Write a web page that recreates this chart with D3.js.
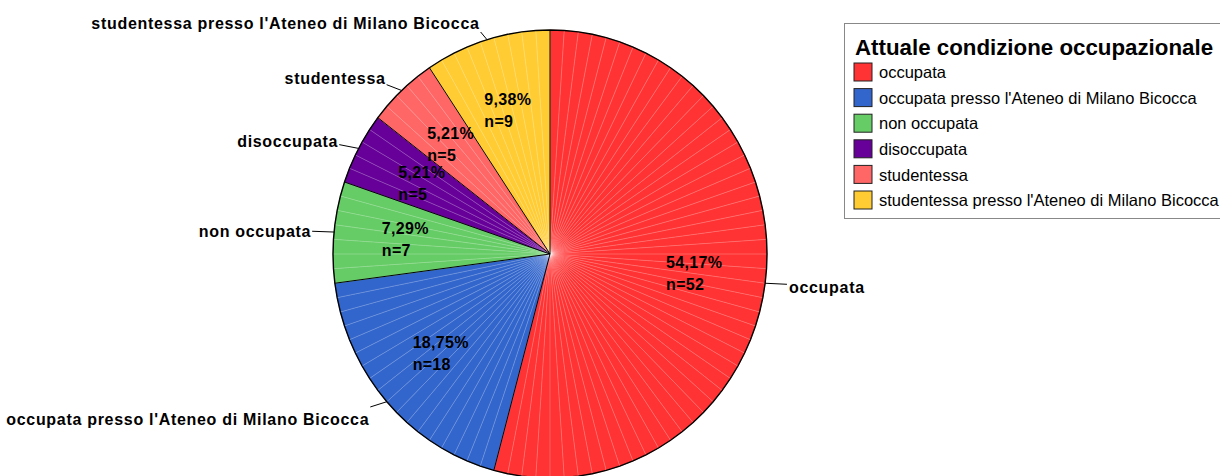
<!DOCTYPE html>
<html>
<head>
<meta charset="utf-8">
<script src="https://cdn.jsdelivr.net/npm/d3@7"></script>
<style>
  body { margin: 0; background: #fff; }
  svg { display: block; font-family: "Liberation Sans", Arial, sans-serif; }
</style>
</head>
<body>
<script>
var categories = ['occupata', "occupata presso l'Ateneo di Milano Bicocca", 'non occupata',
  'disoccupata', 'studentessa', "studentessa presso l'Ateneo di Milano Bicocca"];
var counts = [52, 18, 7, 5, 5, 9];
var colors = ['#ff3333', '#3366cc', '#66cc66', '#660099', '#ff6666', '#ffcc33'];
var legendTitle = 'Attuale condizione occupazionale';

var svg = d3.select('body').append('svg')
  .attr('width', 1220)
  .attr('height', 476);

var cx = 550, cy = 254, rx = 217, ry = 224;
var total = d3.sum(counts);

var locale = d3.formatLocale({ decimal: ',', thousands: '.', grouping: [3], currency: ['', ''] });
var pct = locale.format('.2%');

var z = d3.scaleOrdinal().domain(categories).range(colors);

function pt(a, r) {
  return [cx + rx * r * Math.sin(a), cy - ry * r * Math.cos(a)];
}

// one wedge per respondent, SPSS style
var units = [];
categories.forEach(function (c, i) {
  for (var k = 0; k < counts[i]; k++) units.push({ cat: c, idx: i });
});
var unitArcs = d3.pie().sort(null).value(1)(units);
var catArcs = d3.pie().sort(null).value(function (d) { return d; })(counts);

var line = d3.line();
var pie = svg.append('g');

pie.selectAll('path.unit')
  .data(unitArcs)
  .enter().append('path')
  .attr('class', 'unit')
  .attr('fill', function (d) { return z(d.data.cat); })
  .attr('stroke', function (d) { return z(d.data.cat); })
  .attr('stroke-width', 0.5)
  .attr('d', function (d) {
    return line([[cx, cy], pt(d.startAngle, 1), pt(d.endAngle, 1)]) + 'Z';
  });

// faint separators between respondents
pie.selectAll('line.sep')
  .data(unitArcs)
  .enter().append('line')
  .attr('x1', cx).attr('y1', cy)
  .attr('x2', function (d) { return pt(d.startAngle, 1)[0]; })
  .attr('y2', function (d) { return pt(d.startAngle, 1)[1]; })
  .attr('stroke', '#fff')
  .attr('stroke-opacity', 0.3)
  .attr('stroke-width', 0.8);

// category boundaries
pie.selectAll('line.bound')
  .data(catArcs)
  .enter().append('line')
  .attr('x1', cx).attr('y1', cy)
  .attr('x2', function (d) { return pt(d.startAngle, 1)[0]; })
  .attr('y2', function (d) { return pt(d.startAngle, 1)[1]; })
  .attr('stroke', '#000')
  .attr('stroke-width', 1);

// outline
pie.append('path')
  .attr('fill', 'none')
  .attr('stroke', '#000')
  .attr('stroke-width', 1.4)
  .attr('d', line(unitArcs.map(function (d) { return pt(d.startAngle, 1); })) + 'Z');

// inside labels
var inner = svg.append('g')
  .attr('font-weight', 'bold')
  .attr('font-size', 16)
  .attr('letter-spacing', 0.3)
  .attr('fill', '#000')
  .selectAll('g')
  .data(catArcs)
  .enter().append('g');

inner.each(function (d, i) {
  var g = d3.select(this);
  var mid = (d.startAngle + d.endAngle) / 2;
  var c = pt(mid, 0.67);
  var t1 = g.append('text').attr('dy', '0.35em').attr('y', c[1] - 11).text(pct(counts[i] / total));
  var t2 = g.append('text').attr('dy', '0.35em').attr('y', c[1] + 11).text('n=' + counts[i]);
  var w = Math.max(t1.node().getComputedTextLength(), t2.node().getComputedTextLength());
  t1.attr('x', c[0] - w / 2);
  t2.attr('x', c[0] - w / 2);
});

// outside labels with leader lines
var outer = svg.append('g').selectAll('g')
  .data(catArcs)
  .enter().append('g');

outer.each(function (d, i) {
  var g = d3.select(this);
  var mid = (d.startAngle + d.endAngle) / 2;
  var dx = Math.sin(mid), dy = -Math.cos(mid);
  var e = pt(mid, 1);
  var end = [e[0] + dx * 22, e[1] + dy * 8];
  g.append('line')
    .attr('x1', e[0]).attr('y1', e[1])
    .attr('x2', end[0]).attr('y2', end[1])
    .attr('stroke', '#000')
    .attr('stroke-width', 1);
  g.append('text')
    .attr('font-weight', 'bold')
    .attr('font-size', 16)
    .attr('letter-spacing', 0.7)
    .attr('text-anchor', dx > 0 ? 'start' : 'end')
    .attr('x', end[0] + (dx > 0 ? 2 : -1))
    .attr('y', end[1] + dy * (dy > 0 ? 18 : 10) + 1)
    .attr('dy', '0.35em')
    .text(categories[i]);
});

// legend
var legend = svg.append('g').attr('transform', 'translate(844,23)');
legend.append('rect')
  .attr('x', 0.5).attr('y', 0.5)
  .attr('width', 390).attr('height', 195)
  .attr('fill', '#fff')
  .attr('stroke', '#888');
legend.append('text')
  .attr('x', 11).attr('y', 32)
  .attr('font-weight', 'bold')
  .attr('font-size', 22.3)
  .text(legendTitle);

var items = legend.selectAll('g.item')
  .data(categories)
  .enter().append('g')
  .attr('transform', function (d, i) { return 'translate(10,' + (40 + i * 25.6) + ')'; });

items.append('rect')
  .attr('width', 18).attr('height', 18)
  .attr('fill', z)
  .attr('stroke', '#222')
  .attr('stroke-width', 1);

items.append('text')
  .attr('x', 25)
  .attr('y', 9.5)
  .attr('dy', '0.35em')
  .attr('font-size', 16.5)
  .text(function (d) { return d; });
</script>
</body>
</html>
